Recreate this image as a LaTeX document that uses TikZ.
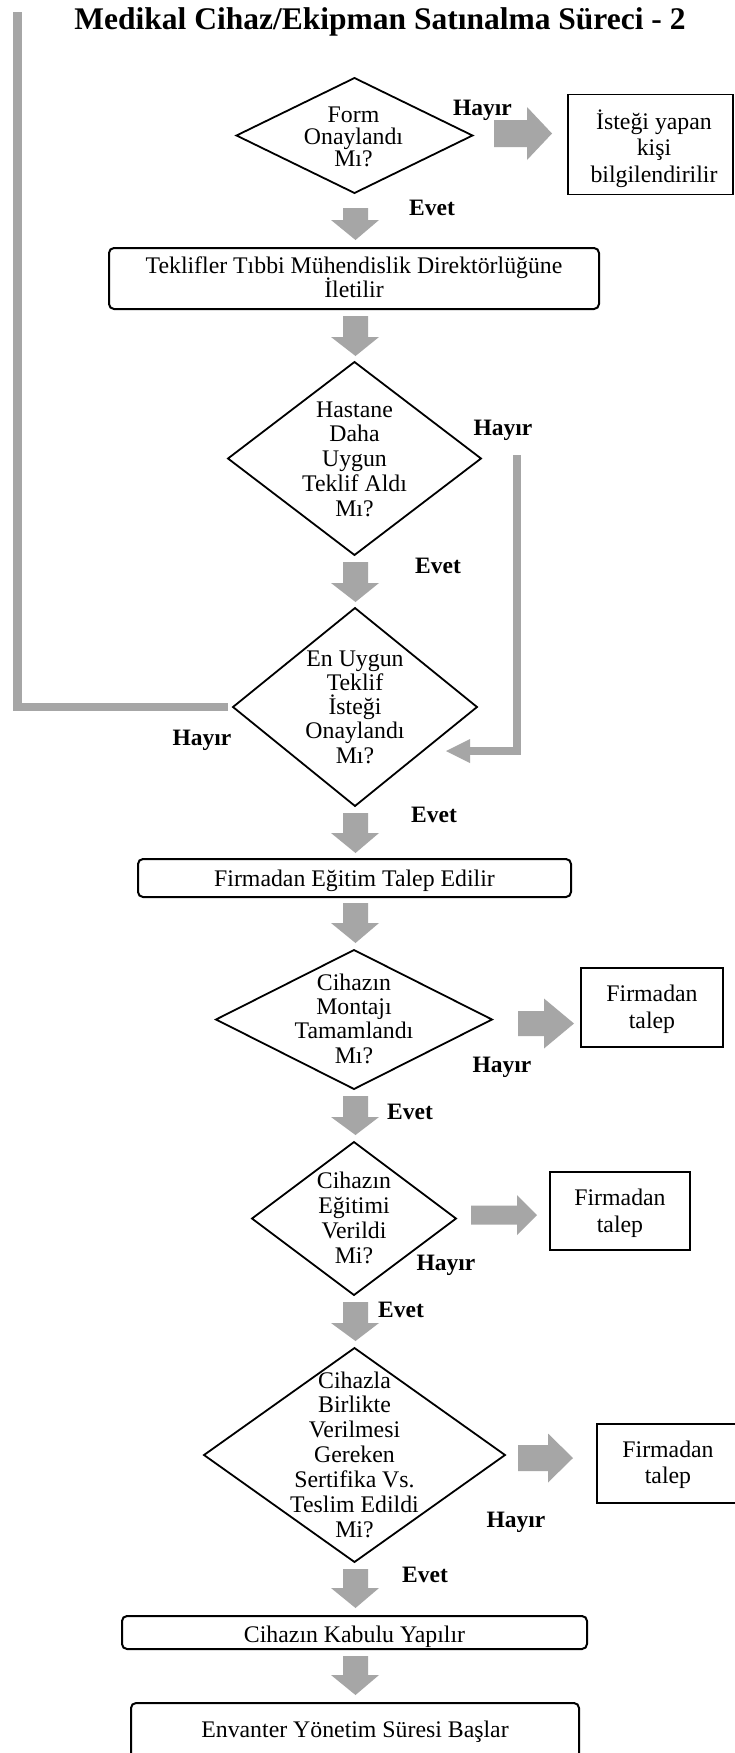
\documentclass[tikz,border=0pt]{standalone}
\usepackage{fontspec}
\setmainfont{Liberation Serif}
\usetikzlibrary{shapes.geometric}
\definecolor{blkgray}{RGB}{166,166,166}
\newcommand{\dnarrow}[3]{%
  \fill[blkgray] (343,#1) -- (368,#1) -- (368,#2) -- (379,#2) -- (355.5,#3) -- (331,#2) -- (343,#2) -- cycle;}
\newcommand{\rtarrow}[6]{%
  \fill[blkgray] (#1,#4-#5) -- (#2,#4-#5) -- (#2,#4-#6) -- (#3,#4) -- (#2,#4+#6) -- (#2,#4+#5) -- (#1,#4+#5) -- cycle;}
\tikzset{
  dia/.style={shape=diamond, draw=black, line width=1.8pt, inner sep=0pt, outer sep=0pt},
  rbox/.style={shape=rectangle, draw=black, line width=2pt, rounded corners=5pt, inner sep=0pt, outer sep=0pt},
  pbox/.style={shape=rectangle, draw=black, line width=1.1pt, inner sep=0pt, outer sep=0pt},
  txt/.style={font={\fontsize{23.8}{#1}\selectfont\lineskiplimit=-100pt}, align=center, inner sep=0pt, anchor=base},
  txt/.default=24.7,
  lbl/.style={font={\bfseries\fontsize{23.5}{24}\selectfont}, inner sep=0pt, anchor=base},
  ttl/.style={font={\bfseries\fontsize{31.5}{32}\selectfont}, inner sep=0pt, anchor=base},
  grayline/.style={draw=blkgray, line width=8.5pt, line join=miter}
}
\begin{document}
\begin{tikzpicture}[x=1pt,y=-1pt]
\useasboundingbox (0,0) rectangle (734,1753);
\fill[white] (0,0) rectangle (734,1753);

% title
\node[ttl] (title) at (380,30) {Medikal Cihaz/Ekipman Satınalma Süreci - 2};

% shapes
\node[dia, minimum width=236pt, minimum height=115pt] (d1) at (354.5,135.5) {};
\node[pbox, minimum width=165pt, minimum height=100pt] (b0) at (650.5,144.5) {};
\node[rbox, minimum width=490pt, minimum height=61pt] (b1) at (354,278.5) {};
\node[dia, minimum width=253pt, minimum height=193pt] (d2) at (354.5,458.5) {};
\node[dia, minimum width=244pt, minimum height=198pt] (d3) at (355,707) {};
\node[rbox, minimum width=433pt, minimum height=38pt] (b2) at (354.5,878) {};
\node[dia, minimum width=276pt, minimum height=139pt] (d4) at (354,1019.5) {};
\node[pbox, minimum width=142pt, minimum height=79pt] (t1) at (652,1007.5) {};
\node[dia, minimum width=204pt, minimum height=153pt] (d5) at (354,1218.5) {};
\node[pbox, minimum width=140pt, minimum height=78pt] (t2) at (620,1211) {};
\node[dia, minimum width=301pt, minimum height=214pt] (d6) at (354.5,1455) {};
\node[pbox, minimum width=142pt, minimum height=79pt] (t3) at (668,1463.5) {};
\node[rbox, minimum width=465pt, minimum height=33pt] (b3) at (354.5,1632.5) {};
\node[rbox, minimum width=448pt, minimum height=55pt] (b4) at (355,1730.5) {};

% texts (anchor = baseline of the last line)
\node[txt=22] (d1t) at (353.5,166.5) {Form\\Onaylandı\\Mı?};
\node[txt=26.5] (b0t) at (654,182) {İsteği yapan\\kişi\\bilgilendirilir};
\node[txt=24] (b1t) at (354,297) {Teklifler Tıbbi Mühendislik Direktörlüğüne\\İletilir};
\node[txt=24.75] (d2t) at (354.5,516) {Hastane\\Daha\\Uygun\\Teklif Aldı\\Mı?};
\node[txt=24.25] (d3t) at (355,763) {En Uygun\\Teklif\\İsteği\\Onaylandı\\Mı?};
\node[txt] (b2t) at (354.5,886) {Firmadan Eğitim Talep Edilir};
\node[txt=24.33] (d4t) at (354,1063) {Cihazın\\Montajı\\Tamamlandı\\Mı?};
\node[txt=27] (t1t) at (652,1028) {Firmadan\\talep};
\node[txt=25] (d5t) at (354,1263) {Cihazın\\Eğitimi\\Verildi\\Mi?};
\node[txt=27] (t2t) at (620,1232) {Firmadan\\talep};
\node[txt=24.83] (d6t) at (354.5,1537) {Cihazla\\Birlikte\\Verilmesi\\Gereken\\Sertifika Vs.\\Teslim Edildi\\Mi?};
\node[txt=26] (t3t) at (668,1483) {Firmadan\\talep};
\node[txt] (b3t) at (354.5,1642) {Cihazın Kabulu Yapılır};
\node[txt] (b4t) at (355,1737) {Envanter Yönetim Süresi Başlar};

% labels
\node[lbl] (h1) at (482.5,115) {Hayır};
\node[lbl] (e1) at (432,215) {Evet};
\node[lbl] (h2) at (503,435) {Hayır};
\node[lbl] (e2) at (438,573) {Evet};
\node[lbl] (h3) at (202,745) {Hayır};
\node[lbl] (e3) at (434,822) {Evet};
\node[lbl] (h4) at (502,1072) {Hayır};
\node[lbl] (e4) at (410,1119) {Evet};
\node[lbl] (h5) at (446,1270) {Hayır};
\node[lbl] (e5) at (401,1317) {Evet};
\node[lbl] (h6) at (516,1527) {Hayır};
\node[lbl] (e6) at (425,1582) {Evet};

% block arrows down
\dnarrow{208}{220}{240}
\dnarrow{316}{337}{356}
\dnarrow{562}{583}{602}
\dnarrow{813}{833}{853}
\dnarrow{903}{923}{943}
\dnarrow{1096}{1117}{1135}
\dnarrow{1302}{1323}{1341}
\dnarrow{1569}{1588}{1608}
\dnarrow{1656}{1675}{1695}

% block arrows right
\rtarrow{494}{527}{552}{133.5}{13.5}{26.5}
\rtarrow{518}{544}{574}{1023.5}{12.5}{25}
\rtarrow{471}{517}{537}{1215}{9.5}{20}
\rtarrow{518}{548}{573}{1458}{13}{24.5}

% elbow connectors
\draw[grayline] ([xshift=-5pt]d3.west) -| (17.5,12);
\coordinate (rtop) at (517,455);
\coordinate (rhead) at (470,751);
\draw[grayline, line width=8pt] (rtop) |- (rhead);
\fill[blkgray] (470,739) -- (446,751) -- (470,763) -- cycle;
\end{tikzpicture}
\end{document}
